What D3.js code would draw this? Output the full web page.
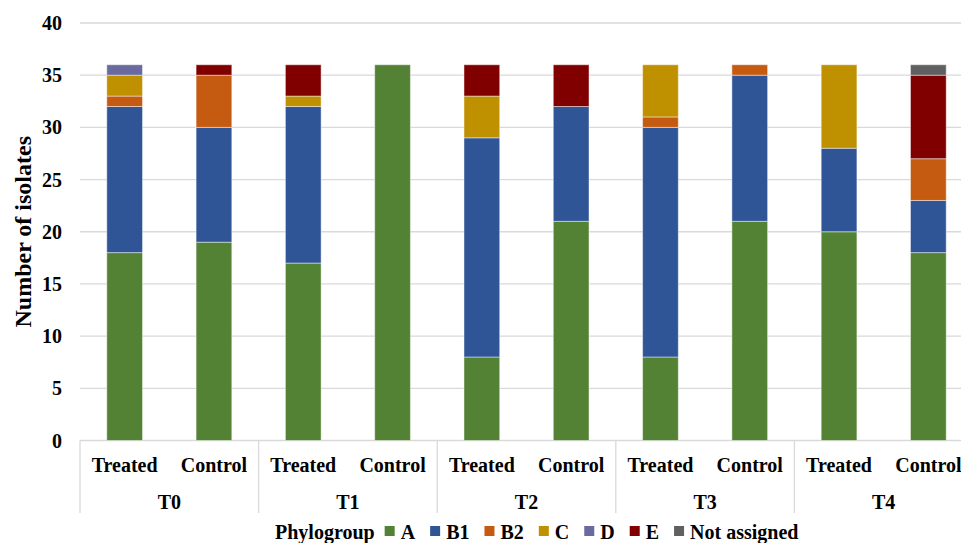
<!doctype html>
<html>
  <head>
    <meta charset="utf-8">
    <title>Phylogroups</title>
    <style>
      * { margin: 0; padding: 0; }
      body { background: #fff; }
      text { font-family: "Liberation Serif", "Times New Roman", serif; font-weight: bold; fill: #000; }
    </style>
    <script src="https://cdnjs.cloudflare.com/ajax/libs/d3/7.8.5/d3.min.js"></script>
  </head>
  <body>
    <svg id="chart" width="961" height="543"></svg>
    <script>
      // data
      var times = ["T0", "T1", "T2", "T3", "T4"];
      var groups = ["Treated", "Control"];
      var phylo = ["A", "B1", "B2", "C", "D", "E", "Not assigned"];
      var colors = ["#548235", "#2F5597", "#C55A11", "#BF9000", "#6A6A9F", "#800000", "#606060"];
      var valA  = [18, 19, 17, 36, 8, 21, 8, 21, 20, 18];
      var valB1 = [14, 11, 15, 0, 21, 11, 22, 14, 8, 5];
      var valB2 = [1, 5, 0, 0, 0, 0, 1, 1, 0, 4];
      var valC  = [2, 0, 1, 0, 4, 0, 5, 0, 8, 0];
      var valD  = [1, 0, 0, 0, 0, 0, 0, 0, 0, 0];
      var valE  = [0, 1, 3, 0, 3, 4, 0, 0, 0, 8];
      var valNA = [0, 0, 0, 0, 0, 0, 0, 0, 0, 1];
      var yTicks = [0, 5, 10, 15, 20, 25, 30, 35, 40];

      var series = [valA, valB1, valB2, valC, valD, valE, valNA];
      var rows = [];
      times.forEach(function (t, i) {
        groups.forEach(function (g, j) {
          var k = i * 2 + j;
          var r = { key: t + "|" + g, time: t, group: g };
          phylo.forEach(function (p, s) { r[p] = series[s][k]; });
          rows.push(r);
        });
      });

      // note: "top" is a read-only global in browsers, so use other names
      var plotL = 80, plotR = 973, plotT = 23, plotB = 440.5;
      var svg = d3.select("#chart");

      var xTime = d3.scaleBand().domain(times).range([plotL, plotR]);
      var x = d3.scaleBand().domain(rows.map(function (d) { return d.key; }))
                .range([plotL, plotR]).paddingInner(0.6).paddingOuter(0.3);
      var y = d3.scaleLinear().domain([0, 40]).range([plotB, plotT]);

      // gridlines
      svg.append("g").selectAll("line").data(yTicks).enter().append("line")
         .attr("x1", plotL).attr("x2", plotR)
         .attr("y1", function (d) { return y(d); }).attr("y2", function (d) { return y(d); })
         .attr("stroke", "#d9d9d9").attr("stroke-width", 1.3);

      // y tick labels
      svg.append("g").selectAll("text").data(yTicks).enter().append("text")
         .attr("x", 62).attr("y", function (d) { return y(d) + 7; })
         .attr("text-anchor", "end").attr("font-size", "20px")
         .text(function (d) { return d; });

      svg.append("text")
         .attr("transform", "translate(31," + ((plotT + plotB) / 2) + ") rotate(-90)")
         .attr("text-anchor", "middle").attr("font-size", "24px")
         .text("Number of isolates");

      // stacked bars
      var stack = d3.stack().keys(phylo)(rows);
      svg.append("g").selectAll("g").data(stack).enter().append("g")
         .attr("fill", function (d, i) { return colors[i]; })
         .selectAll("rect").data(function (d) { return d; }).enter()
         .filter(function (d) { return d[1] - d[0] > 0; })
         .append("rect")
         .attr("x", function (d) { return x(d.data.key); })
         .attr("width", x.bandwidth())
         .attr("y", function (d) { return y(d[1]); })
         .attr("height", function (d) { return y(d[0]) - y(d[1]); })
         .attr("stroke", "rgba(255,255,255,0.45)").attr("stroke-width", 1);

      // category axis: separators and labels
      var sep = times.map(function (t) { return xTime(t); });
      svg.append("g").selectAll("line").data(sep).enter().append("line")
         .attr("x1", function (d) { return d; }).attr("x2", function (d) { return d; })
         .attr("y1", plotB).attr("y2", 513)
         .attr("stroke", "#d9d9d9").attr("stroke-width", 1.3);

      svg.append("g").selectAll("text").data(rows).enter().append("text")
         .attr("x", function (d) { return x(d.key) + x.bandwidth() / 2; })
         .attr("y", 472).attr("text-anchor", "middle").attr("font-size", "20px")
         .text(function (d) { return d.group; });

      svg.append("g").selectAll("text").data(times).enter().append("text")
         .attr("x", function (d) { return xTime(d) + xTime.bandwidth() / 2; })
         .attr("y", 509).attr("text-anchor", "middle").attr("font-size", "20px")
         .text(function (d) { return d; });

      // legend
      var leg = svg.append("g");
      var lx = 275, ly = 539;
      var title = leg.append("text").attr("x", lx).attr("y", ly).attr("font-size", "20px").text("Phylogroup");
      lx += title.node().getComputedTextLength() + 10;
      phylo.forEach(function (p, i) {
        leg.append("rect").attr("x", lx).attr("y", ly - 13).attr("width", 10).attr("height", 10)
           .attr("fill", colors[i]);
        var t = leg.append("text").attr("x", lx + 16).attr("y", ly).attr("font-size", "20px").text(p);
        lx += 16 + t.node().getComputedTextLength() + 15;
      });
    </script>
  </body>
</html>
